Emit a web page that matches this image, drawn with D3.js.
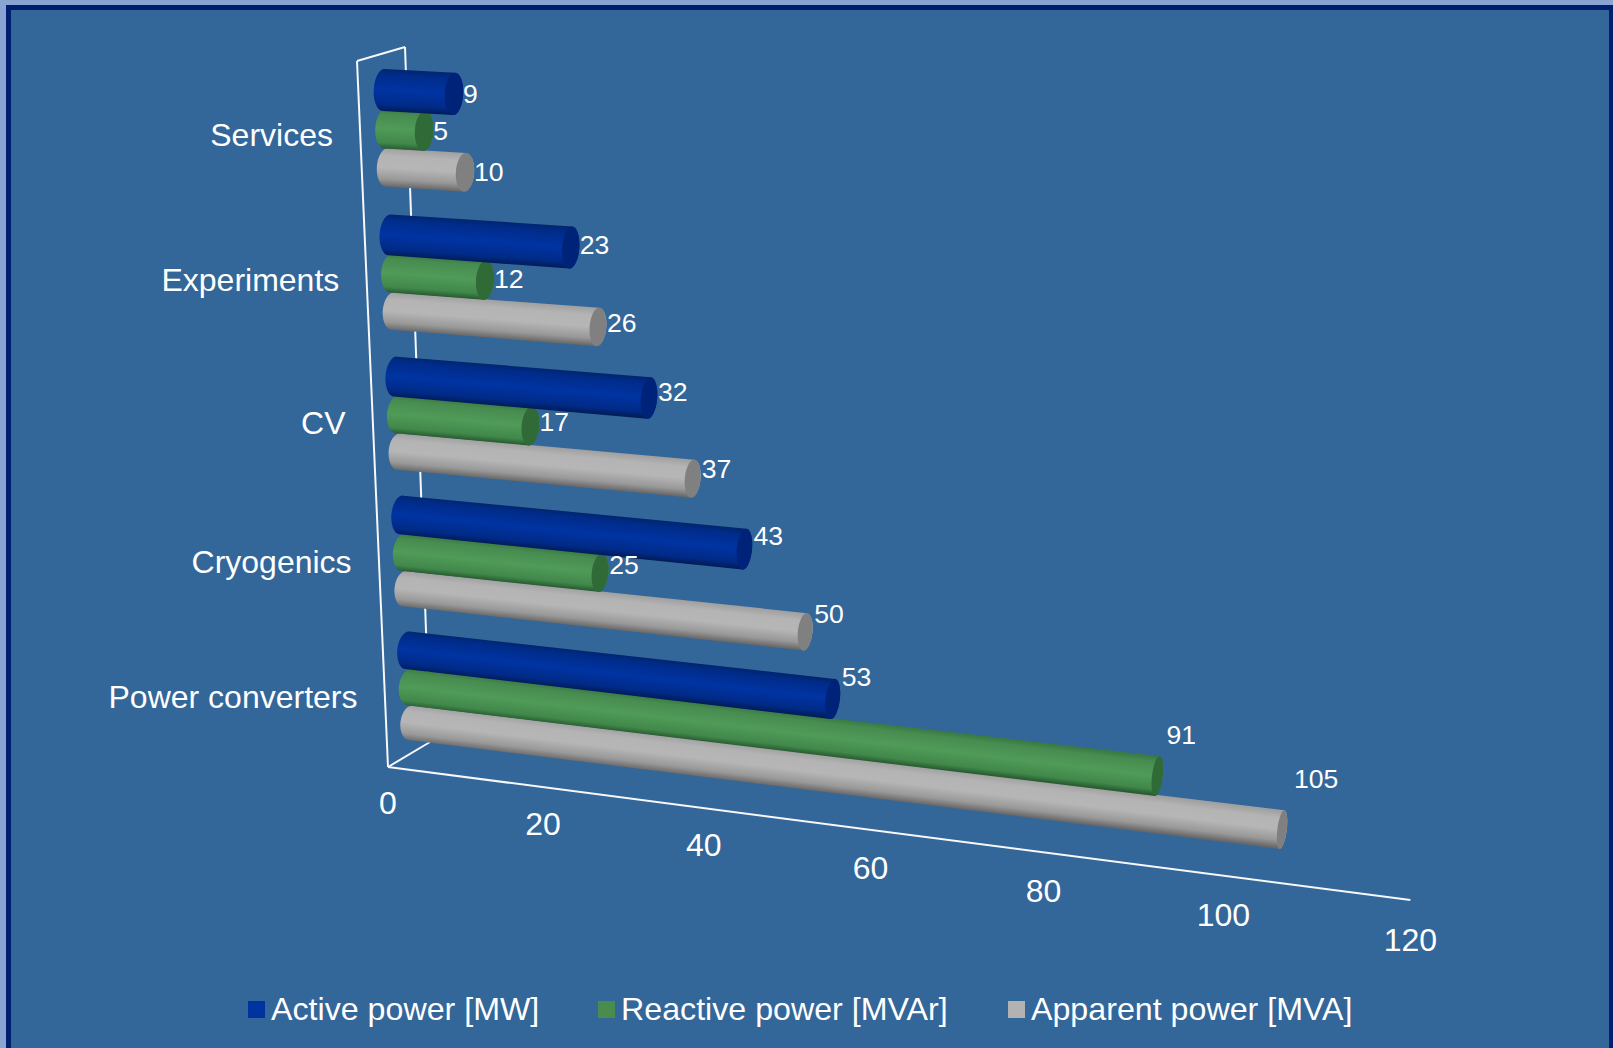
<!DOCTYPE html>
<html>
<head>
<meta charset="utf-8">
<script src="https://cdn.jsdelivr.net/npm/d3@7/dist/d3.min.js"></script>
<style>
html,body{margin:0;padding:0;background:#336699;overflow:hidden}
text{font-family:"Liberation Sans",Arial,sans-serif;fill:#fff}
</style>
</head>
<body>
<svg id="chart" width="1613" height="1048"></svg>
<script>
const categories = ["Services", "Experiments", "CV", "Cryogenics", "Power converters"];
const seriesNames = ["Active power [MW]", "Reactive power [MVAr]", "Apparent power [MVA]"];
const activePower = [9, 23, 32, 43, 53];
const reactivePower = [5, 12, 17, 25, 91];
const apparentPower = [10, 26, 37, 50, 105];
const axisTicks = [0, 20, 40, 60, 80, 100, 120];

const W = 1613, H = 1048;
const svg = d3.select("#chart");
const defs = svg.append("defs");

// Frame of the slide
svg.append("rect").attr("width", W).attr("height", H).attr("fill", "#8ba5d3");
svg.append("rect").attr("x", 6).attr("y", 5).attr("width", W - 6).attr("height", H - 5).attr("fill", "#00206f");
svg.append("rect").attr("x", 11).attr("y", 10).attr("width", W - 15).attr("height", H - 10).attr("fill", "#336699");

// Foreshortening: equal value steps grow on screen towards the far end of the axis
function foreshorten(perUnit, k) {
  const run = d3.scaleLinear().domain([0, 120]).range([0, 120 * perUnit]);
  const depth = d3.scaleLinear().domain([0, 120]).range([1, 1 - 120 * k]);
  return v => run(v) / depth(v);
}
const axisRun = foreshorten(7.612, 0.000888);
const barRun = foreshorten(7.767, 0.000613);

// Row position of each cylinder: one unit per series, plus a gap between categories
const rowOf = (c, s) => c * 3.75 + s;
const railX = d3.scaleLinear().domain([0, 17]).range([383.7, 410.4]);
const railY = r => 89.5 + 39.19 * r - 0.1139 * r * r;
const railSlope = d3.scaleLinear().domain([0, 17]).range([0.055, 0.1225]);
const barDiameter = d3.scaleLinear().domain([0, 17]).range([40, 35.5]);
const seriesThickness = [1.05, 1, 0.97];
// The first series of each group rides slightly higher towards the front of the box
const seriesLift = [r => -0.5 + 2 * r / 15, () => 0, () => 0];

const axisOrigin = { x: 388, y: 767 };
const axisSlope = 0.1301;
const axisPoint = v => {
  const d = axisRun(v);
  return { x: axisOrigin.x + d, y: axisOrigin.y + axisSlope * d };
};

// Box edges behind the bars
const wallTop = { x: 357, y: 61 }, wallBack = { x: 405, y: 47 }, floorBack = { x: 430, y: 742 };
const wallX = d3.scaleLinear().domain([wallTop.y, axisOrigin.y]).range([wallTop.x, axisOrigin.x]);
const edges = [
  [wallTop, axisOrigin],
  [wallTop, wallBack],
  [wallBack, floorBack],
  [axisOrigin, floorBack],
  [axisOrigin, axisPoint(120)]
];
svg.append("g").selectAll("line").data(edges).join("line")
  .attr("x1", d => d[0].x).attr("y1", d => d[0].y)
  .attr("x2", d => d[1].x).attr("y2", d => d[1].y)
  .attr("stroke", "#f6f8fc").attr("stroke-width", 2);

// Value axis labels
svg.append("g").selectAll("text").data(axisTicks).join("text")
  .attr("x", d => axisPoint(d).x)
  .attr("y", d => axisPoint(d).y + 47 + 4 * d / 120)
  .attr("text-anchor", "middle").attr("font-size", 32)
  .text(d => d);

// Category labels
svg.append("g").selectAll("text").data(categories).join("text")
  .attr("x", (d, i) => wallX(railY(rowOf(i, 1))) - 27)
  .attr("y", (d, i) => { const r = rowOf(i, 1); return railY(r) + 17.3 + 0.233 * r; })
  .attr("text-anchor", "end").attr("font-size", 32)
  .text(d => d);

// Cylinder shading, one palette per series
const palettes = [
  { swatch: "#00339f", cap: "#00237a", stops: [[0, "#01256f"], [0.14, "#002c8a"], [0.5, "#0034a3"], [0.85, "#002a86"], [1, "#011c58"]] },
  { swatch: "#4a8c4e", cap: "#2f6a37", stops: [[0, "#3a7a45"], [0.14, "#478c50"], [0.5, "#509b58"], [0.85, "#41884a"], [1, "#285c32"]] },
  { swatch: "#b2b2b2", cap: "#808080", stops: [[0, "#a0a0a0"], [0.2, "#b4b4b4"], [0.5, "#b6b6b6"], [0.8, "#999999"], [1, "#686868"]] }
];
const seriesValues = [activePower, reactivePower, apparentPower];

const bars = [];
categories.forEach((cat, c) => seriesValues.forEach((vals, s) => {
  const v = vals[c], r = rowOf(c, s), run = barRun(v), slope = railSlope(r);
  const thick = barDiameter(r) * seriesThickness[s];
  const y0 = railY(r) - seriesLift[s](r);
  bars.push({
    id: `bar-${c}-${s}`, s, v, r, slope,
    x0: railX(r), y0,
    x1: railX(r) + run, y1: y0 + slope * run,
    d0: thick, d1: thick * (1 + 0.0013 * v),
    rx0: 10, rx1: 9.6 - 0.0056 * run,
    labelY: y0 + (slope - 0.0034 * r) * run
  });
}));

// Lower rows first so that upper cylinders sit on top of them
bars.sort((a, b) => b.r - a.r);

const barLayer = svg.append("g");
bars.forEach(b => {
  const angle = Math.atan(b.slope);
  const nx = -Math.sin(angle), ny = Math.cos(angle);
  const deg = angle * 180 / Math.PI;
  const mx = (b.x0 + b.x1) / 2, my = (b.y0 + b.y1) / 2, dm = (b.d0 + b.d1) / 2;
  const grad = defs.append("linearGradient").attr("id", b.id)
    .attr("gradientUnits", "userSpaceOnUse")
    .attr("x1", mx - nx * dm / 2).attr("y1", my - ny * dm / 2)
    .attr("x2", mx + nx * dm / 2).attr("y2", my + ny * dm / 2);
  grad.selectAll("stop").data(palettes[b.s].stops).join("stop")
    .attr("offset", d => d[0]).attr("stop-color", d => d[1]);

  const top0 = [b.x0 - nx * b.d0 / 2, b.y0 - ny * b.d0 / 2];
  const bot0 = [b.x0 + nx * b.d0 / 2, b.y0 + ny * b.d0 / 2];
  const top1 = [b.x1 - nx * b.d1 / 2, b.y1 - ny * b.d1 / 2];
  const bot1 = [b.x1 + nx * b.d1 / 2, b.y1 + ny * b.d1 / 2];
  const outline = `M${top0}L${top1}` +
    `A${b.rx1} ${b.d1 / 2} ${deg} 0 1 ${bot1}` +
    `L${bot0}` +
    `A${b.rx0} ${b.d0 / 2} ${deg} 0 1 ${top0}Z`;
  barLayer.append("path").attr("d", outline).attr("fill", `url(#${b.id})`);
  barLayer.append("ellipse")
    .attr("rx", b.rx1).attr("ry", b.d1 / 2)
    .attr("transform", `translate(${b.x1},${b.y1}) rotate(${deg})`)
    .attr("fill", palettes[b.s].cap);
});

// Value labels at the far end of each cylinder
svg.append("g").selectAll("text").data(bars).join("text")
  .attr("x", d => d.x1 + (d.v > 99 ? 12 : 9))
  .attr("y", d => d.labelY + 9)
  .attr("font-size", 26.6)
  .text(d => d.v);

// Legend
const legendSwatchX = [248, 598, 1008];
const legend = svg.append("g").selectAll("g").data(seriesNames).join("g")
  .attr("transform", (d, i) => `translate(${legendSwatchX[i]},1001)`);
legend.append("rect").attr("width", 17).attr("height", 17)
  .attr("fill", (d, i) => palettes[i].swatch);
legend.append("text").attr("x", 23).attr("y", 19).attr("font-size", 32.2).text(d => d);
</script>
</body>
</html>
